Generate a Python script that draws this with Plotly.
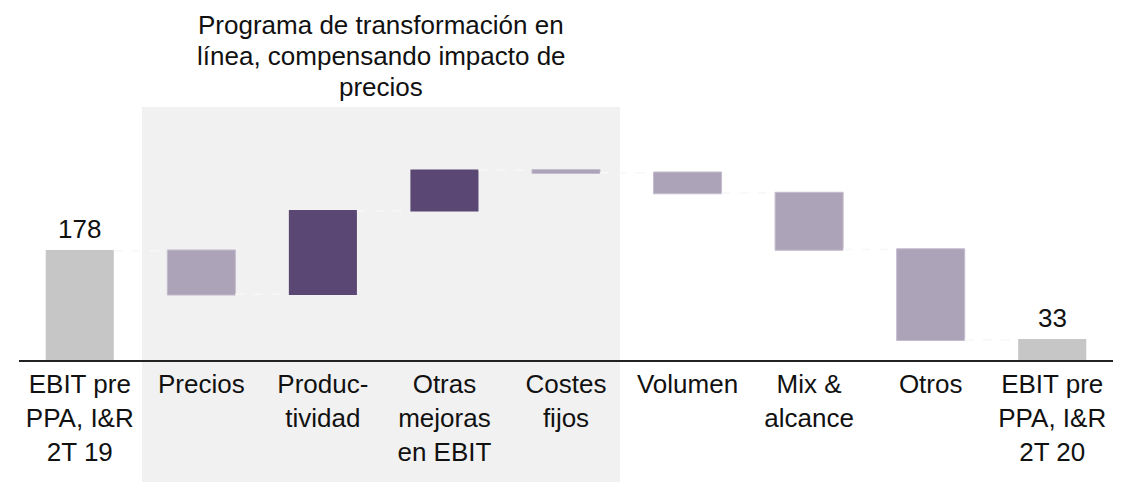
import plotly.graph_objects as go

categories = [
    "EBIT pre<br>PPA, I&R<br>2T 19",
    "Precios",
    "Produc-<br>tividad",
    "Otras<br>mejoras<br>en EBIT",
    "Costes<br>fijos",
    "Volumen",
    "Mix &<br>alcance",
    "Otros",
    "EBIT pre<br>PPA, I&R<br>2T 20",
]
values = [178, -71, 136, 66, -4, -33, -92, -147, 33]
measures = ["absolute", "relative", "relative", "relative", "relative",
            "relative", "relative", "relative", "total"]
total_labels = ["178", "33"]
title_lines = ["Programa de transformación en",
               "línea, compensando impacto de",
               "precios"]

FONT = "Liberation Sans, Arial, sans-serif"
GRAY = "#C6C6C6"
LIGHT = "#ADA3B8"
DARK = "#5A4773"
FS = 26

fig = go.Figure()
fig.add_trace(go.Waterfall(
    x=categories,
    y=values[:-1] + [0],
    measure=measures,
    increasing=dict(marker=dict(color=DARK, line=dict(width=0))),
    decreasing=dict(marker=dict(color=LIGHT, line=dict(color="#C4BCCD", width=1))),
    totals=dict(marker=dict(color=GRAY, line=dict(width=0))),
    connector=dict(line=dict(color="#F7F7F7", width=1.5, dash="dash")),
    hoverinfo="skip",
    showlegend=False,
))

# labels above the total bars
for xi, yi, lab in [(categories[0], values[0], total_labels[0]),
                    (categories[-1], values[-1], total_labels[1])]:
    fig.add_annotation(x=xi, y=yi, text=lab,
                       showarrow=False, yanchor="bottom", yshift=5,
                       font=dict(family=FONT, size=FS, color="#111111"))

# shaded group region
fig.add_shape(type="rect", xref="paper", yref="paper",
              x0=0.1124, x1=0.5494, y0=-0.58, y1=1.1448,
              fillcolor="#F1F1F1", line=dict(width=0), layer="below")

# group title, one annotation per line
PLOT_H = 221.0
for i, line in enumerate(title_lines):
    center_px = 24.5 + 31 * i           # window pixel row of the line centre
    fig.add_annotation(xref="paper", yref="paper", x=0.331,
                       y=(360 - center_px) / PLOT_H,
                       text=line, showarrow=False, align="center",
                       yanchor="middle", xanchor="center",
                       font=dict(family=FONT, size=FS, color="#111111"))

# page body has an 8px margin: compensate so the plot area lands at
# window x 19..1113, y 139..360
fig.update_layout(
    width=1132, height=482,
    margin=dict(l=11, r=27, t=131, b=130, autoexpand=False),
    paper_bgcolor="white", plot_bgcolor="rgba(0,0,0,0)",
    waterfallgap=0.44,
    font=dict(family=FONT, size=FS, color="#111111"),
    xaxis=dict(showline=True, linecolor="#222222", linewidth=2,
               showgrid=False, zeroline=False, ticks="", automargin=False,
               tickfont=dict(family=FONT, size=FS, color="#111111"),
               fixedrange=True),
    yaxis=dict(range=[0, 360], visible=False, showgrid=False,
               zeroline=False, fixedrange=True, automargin=False),
)

fig.write_html("out.html")
